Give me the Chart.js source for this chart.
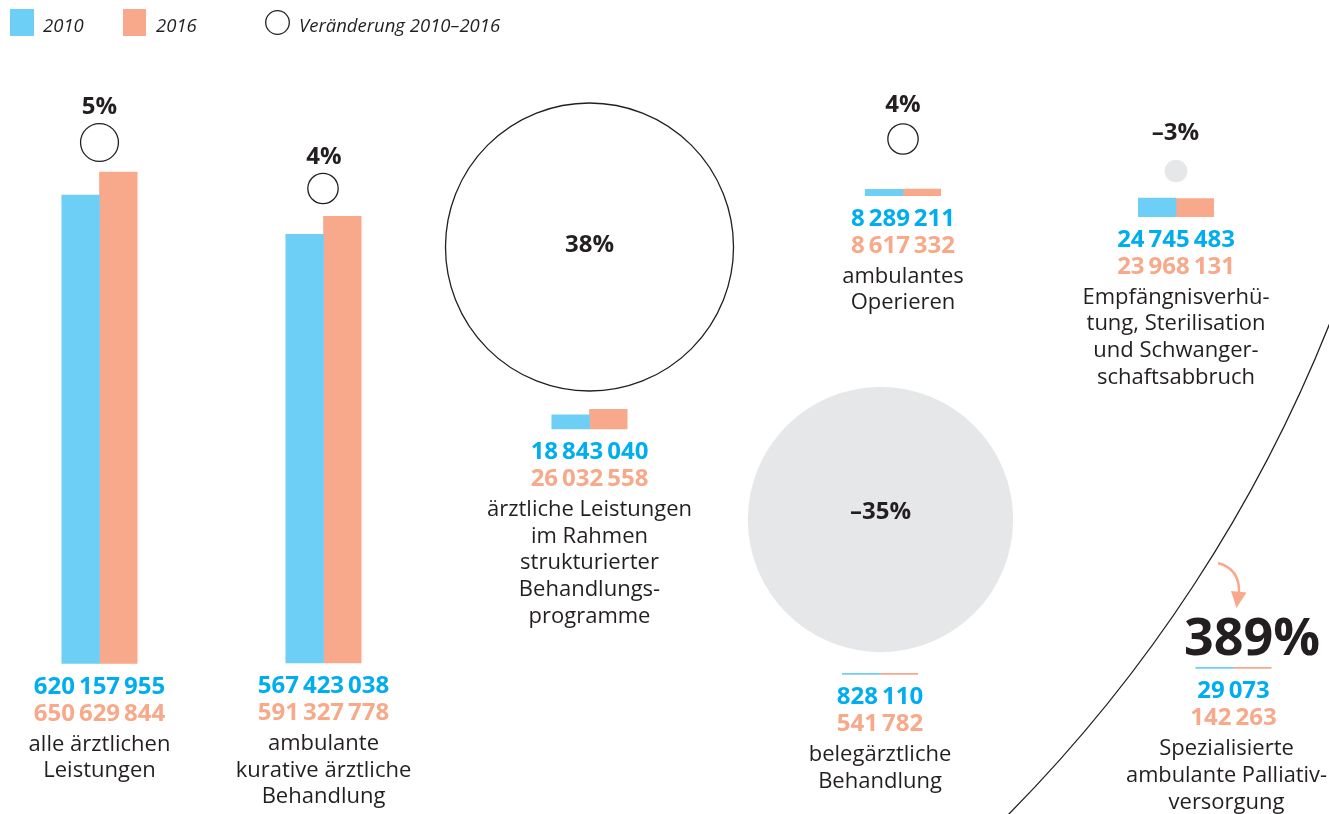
<!DOCTYPE html>
<html lang="de">
<head>
<meta charset="utf-8">
<title>Ärztliche Leistungen 2010 und 2016</title>
<script src="https://cdn.jsdelivr.net/npm/chart.js@4.4.1/dist/chart.umd.min.js"></script>
<style>
  html, body { margin: 0; padding: 0; background: #fff; }
  #wrap { position: relative; width: 1329px; height: 814px; }
</style>
</head>
<body>
<div id="wrap"><canvas id="chart"></canvas></div>
<script>
const categories = [
  ["alle ärztlichen", "Leistungen"],
  ["ambulante", "kurative ärztliche", "Behandlung"],
  ["ärztliche Leistungen", "im Rahmen", "strukturierter", "Behandlungs-", "programme"],
  ["ambulantes", "Operieren"],
  ["Empfängnisverhü-", "tung, Sterilisation", "und Schwanger-", "schaftsabbruch"],
  ["belegärztliche", "Behandlung"],
  ["Spezialisierte", "ambulante Palliativ-", "versorgung"]
];
const values2010 = [620157955, 567423038, 18843040, 8289211, 24745483, 828110, 29073];
const values2016 = [650629844, 591327778, 26032558, 8617332, 23968131, 541782, 142263];
const changePct = [5, 4, 38, 4, -3, -35, 389];
const seriesNames = ["2010", "2016"];
const changeName = "Veränderung 2010–2016";

// layout of the free-form infographic (pixel anchors, not data)
const W = 1329, H = 814;
const VALUE_PER_PX = 1323700;   // bar height scale
const RADIUS_PER_PCT = 3.79;    // circle radius scale
const groupX = [99.5, 323.5, 589.5, 903, 1176, 880, 1233.5];
const groupBase = [663.5, 663, 429, 195.7, 216.7, 674.3, 668.3];
const labelShift = [0, 0, 0, 0, 0, 0, -7];
const circleX = [99.5, 323, 589.5, 903, 1176, 880.5, -40];
const circleY = [142.5, 188.5, 247, 139, 171, 519.5, -222];
const pctX = [99.5, 324, 589.5, 903, 1175.5, 880.5, 1252];
const pctY = [114, 164, 252, 111.7, 140, 519, 655];

const BLUE = "#6dcff6", SALMON = "#f9a98b";
const BLUE_TXT = "#00aeef", SALMON_TXT = "#f7a98a", INK = "#231f20", GREY = "#e6e7e8";
const FONT = '"Open Sans", "Noto Sans", sans-serif';

const toVal = (py) => (H - py) * VALUE_PER_PX;
const fmt = (n) => String(n).replace(/\B(?=(\d{3})+(?!\d))/g, "\u2009");
const fmtPct = (p) => (p < 0 ? "–" : "") + Math.abs(p) + "%";

const bars = (vals) => vals.map((v, i) => ({ x: groupX[i], y: [toVal(groupBase[i]), toVal(groupBase[i]) + v] }));
const bubbles = changePct.map((p, i) => ({ x: circleX[i], y: toVal(circleY[i]), r: Math.abs(p) * RADIUS_PER_PCT }));

const textPlugin = {
  id: "infotext",
  afterDatasetsDraw(chart) {
    const { ctx, scales: { x, y } } = chart;
    ctx.save();
    ctx.textAlign = "center";
    ctx.textBaseline = "alphabetic";

    categories.forEach((lines, i) => {
      const cx = x.getPixelForValue(groupX[i]);
      const by = y.getPixelForValue(toVal(groupBase[i]));
      ctx.font = "700 24px " + FONT;
      ctx.fillStyle = BLUE_TXT;
      ctx.fillText(fmt(values2010[i]), cx, by + 30);
      ctx.fillStyle = SALMON_TXT;
      ctx.fillText(fmt(values2016[i]), cx, by + 57);
      ctx.font = "400 22px " + FONT;
      ctx.fillStyle = INK;
      const lx = cx + labelShift[i];
      const maxW = 2 * (chart.width - 2 - lx);
      lines.forEach((t, j) => ctx.fillText(t, lx, by + 87 + j * 26.7, maxW));

      // change label
      const big = Math.abs(changePct[i]) > 100;
      ctx.font = (big ? "700 52px " : "700 24px ") + FONT;
      ctx.fillText(fmtPct(changePct[i]), x.getPixelForValue(pctX[i]), y.getPixelForValue(toVal(pctY[i])));
    });

    // arrow from the huge circle to its label
    const ax = x.getPixelForValue(1218), ay = y.getPixelForValue(toVal(563));
    ctx.strokeStyle = SALMON;
    ctx.fillStyle = SALMON;
    ctx.lineWidth = 2.5;
    ctx.beginPath();
    ctx.moveTo(ax, ay);
    ctx.quadraticCurveTo(ax + 22, ay + 6, ax + 21, ay + 30);
    ctx.stroke();
    ctx.beginPath();
    ctx.moveTo(ax + 13, ay + 28);
    ctx.lineTo(ax + 28.5, ay + 29.5);
    ctx.lineTo(ax + 18.5, ay + 45);
    ctx.closePath();
    ctx.fill();

    // legend
    ctx.textAlign = "left";
    ctx.font = "italic 400 18.5px " + FONT;
    ctx.fillStyle = BLUE;
    ctx.fillRect(10, 9, 24, 27);
    ctx.fillStyle = SALMON;
    ctx.fillRect(123, 9, 23, 27);
    ctx.fillStyle = INK;
    ctx.fillText(seriesNames[0], 43, 32);
    ctx.fillText(seriesNames[1], 156, 32);
    ctx.beginPath();
    ctx.arc(277.5, 22.5, 11.8, 0, Math.PI * 2);
    ctx.lineWidth = 1.3;
    ctx.strokeStyle = INK;
    ctx.stroke();
    ctx.fillText(changeName, 299, 32);
    ctx.restore();
  }
};

new Chart(document.getElementById("chart"), {
  type: "bar",
  data: {
    datasets: [
      { type: "bar", label: seriesNames[0], data: bars(values2010), backgroundColor: BLUE, order: 1 },
      { type: "bar", label: seriesNames[1], data: bars(values2016), backgroundColor: SALMON, order: 1 },
      {
        type: "bubble", label: changeName, data: bubbles, order: 2, clip: false,
        backgroundColor: (c) => changePct[c.dataIndex] < 0 ? GREY : "rgba(0,0,0,0)",
        borderColor: (c) => changePct[c.dataIndex] < 0 ? "rgba(0,0,0,0)" : INK,
        borderWidth: (c) => changePct[c.dataIndex] < 0 ? 0 : 1.3
      }
    ]
  },
  options: {
    responsive: true,
    maintainAspectRatio: false,
    animation: false,
    layout: { padding: 0, autoPadding: false },
    datasets: { bar: { barThickness: 37.7, grouped: true, minBarLength: 1, borderWidth: 0 } },
    scales: {
      x: { type: "linear", min: 0, max: W, offset: false, display: false },
      y: { type: "linear", min: 0, max: H * VALUE_PER_PX, display: false }
    },
    plugins: { legend: { display: false }, tooltip: { enabled: false } }
  },
  plugins: [textPlugin]
});
</script>
</body>
</html>
